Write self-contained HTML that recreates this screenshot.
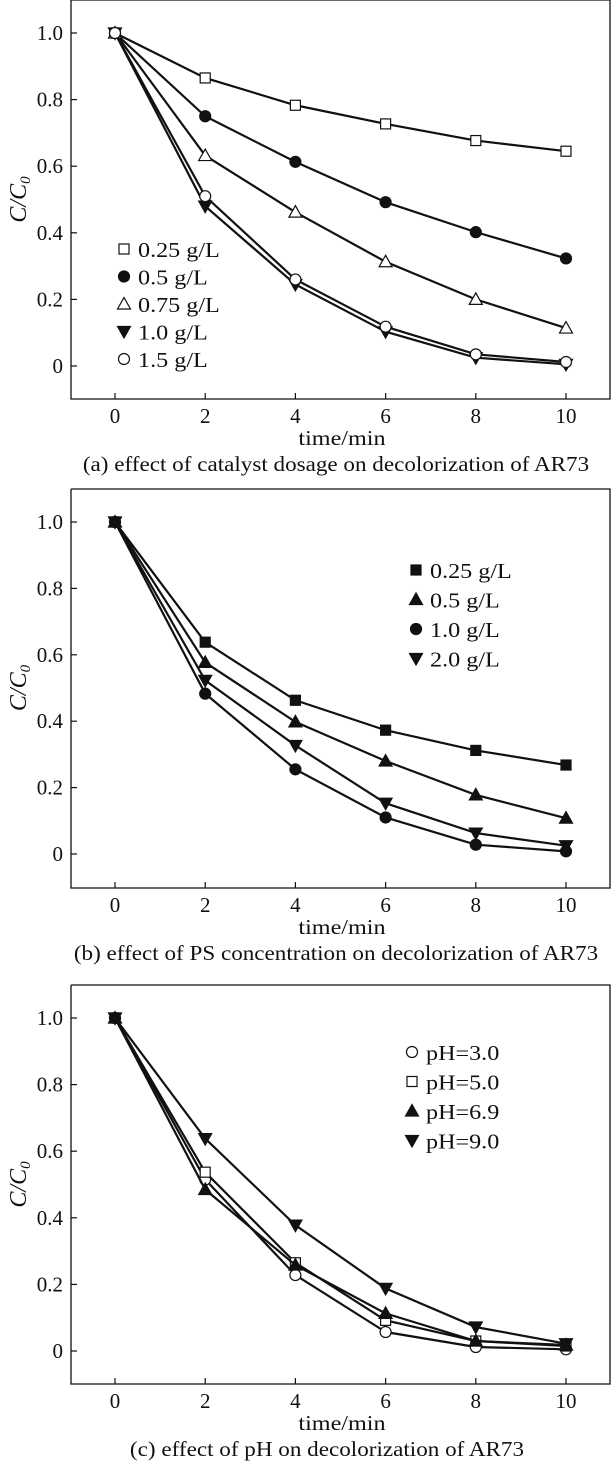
<!DOCTYPE html>
<html><head><meta charset="utf-8">
<style>
html,body{margin:0;padding:0;background:#fff;}
svg{display:block;}
text{font-family:"Liberation Serif",serif;fill:#111;}
</style></head>
<body>
<svg id="fig" width="612" height="1464" viewBox="0 0 612 1464" xmlns="http://www.w3.org/2000/svg"></svg>
<script>
const xTicks=[0,2,4,6,8,10];
const yTicks=[0,0.2,0.4,0.6,0.8,1.0];
const yTickLabels=["0","0.2","0.4","0.6","0.8","1.0"];
const times=[0,2,4,6,8,10];
// panel a
const aNames=["0.25 g/L","0.5 g/L","0.75 g/L","1.0 g/L","1.5 g/L"];
const aS1=[1,0.865,0.783,0.727,0.677,0.645];
const aS2=[1,0.75,0.613,0.492,0.402,0.323];
const aS3=[1,0.632,0.462,0.313,0.2,0.114];
const aS4=[1,0.48,0.245,0.103,0.025,0.005];
const aS5=[1,0.51,0.26,0.118,0.035,0.012];
// panel b
const bNames=["0.25 g/L","0.5 g/L","1.0 g/L","2.0 g/L"];
const bS1=[1,0.638,0.463,0.373,0.312,0.268];
const bS2=[1,0.577,0.398,0.28,0.178,0.108];
const bS3=[1,0.483,0.255,0.11,0.028,0.008];
const bS4=[1,0.523,0.327,0.153,0.063,0.025];
// panel c
const cNames=["pH=3.0","pH=5.0","pH=6.9","pH=9.0"];
const cS1=[1,0.515,0.228,0.057,0.012,0.005];
const cS2=[1,0.537,0.265,0.092,0.03,0.015];
const cS3=[1,0.485,0.258,0.113,0.03,0.018];
const cS4=[1,0.638,0.378,0.188,0.072,0.022];

const NS="http://www.w3.org/2000/svg";
const svg=document.getElementById('fig');
function el(tag,attrs,parent){const e=document.createElementNS(NS,tag);for(const k in attrs)e.setAttribute(k,attrs[k]);(parent||svg).appendChild(e);return e;}
function stretch(t,k){const w=t.getComputedTextLength();t.setAttribute('textLength',(w*k).toFixed(1));t.setAttribute('lengthAdjust','spacingAndGlyphs');}

function marker(g,type,x,y){
  let m;const s=5;
  if(type==='sqo'||type==='sqf') m=el('rect',{x:x-s,y:y-s,width:2*s,height:2*s,fill:type==='sqf'?'#111':'#fff',stroke:'#111','stroke-width':1.2},g);
  else if(type==='cio'||type==='cif') m=el('circle',{cx:x,cy:y,r:5.5,fill:type==='cif'?'#111':'#fff',stroke:'#111','stroke-width':1.2},g);
  else if(type==='tuo'||type==='tuf') m=el('polygon',{points:`${x},${y-6.5} ${x-6.5},${y+5} ${x+6.5},${y+5}`,fill:type==='tuf'?'#111':'#fff',stroke:'#111','stroke-width':1.2},g);
  else m=el('polygon',{points:`${x},${y+6.5} ${x-6.5},${y-5} ${x+6.5},${y-5}`,fill:'#111',stroke:'#111','stroke-width':1.2},g);
  
  
}

function panel(cfg){
  const g=el('g',{});
  
  
  const X0=115,X10=566,L=71,R=610;
  const sx=v=>X0+(X10-X0)*v/10;
  const sy=v=>cfg.y0-(cfg.y0-cfg.y1)*v;
  const fr=el('path',{d:`M${L},${cfg.top} V${cfg.bottom} H${R} V${cfg.top} H${L}`,fill:'none',stroke:'#111','stroke-width':1.3},g);
  
  
  xTicks.forEach(t=>{
    el('line',{x1:sx(t),x2:sx(t),y1:cfg.bottom,y2:cfg.bottom-6,stroke:'#111','stroke-width':1.2},g);
    const tx=el('text',{x:sx(t),y:cfg.bottom+24,'text-anchor':'middle','font-size':21},g);
    tx.textContent=t;
    
    
  });
  yTicks.forEach((t,i)=>{
    el('line',{x1:L,x2:L+6,y1:sy(t),y2:sy(t),stroke:'#111','stroke-width':1.2},g);
    const tx=el('text',{x:63,y:sy(t)+7,'text-anchor':'end','font-size':21},g);
    tx.textContent=yTickLabels[i];
    
    
  });
  const mid=(cfg.y0+cfg.y1)/2;
  const yl=el('text',{x:0,y:0,transform:`translate(26,${mid}) rotate(-90)`,'text-anchor':'middle','font-size':24,'font-style':'italic'},g);
  yl.innerHTML='C/C<tspan font-size="15" dy="4">0</tspan>';
  
  
  const xl=el('text',{x:342,y:cfg.bottom+46,'text-anchor':'middle','font-size':21},g);
  xl.textContent='time/min';
  
  
  stretch(xl,1.15);
  const cap=el('text',{x:cfg.capX,y:cfg.bottom+72,'text-anchor':'middle','font-size':21},g);
  cap.textContent=cfg.caption;
  
  
  stretch(cap,1.1);
  cfg.series.forEach((s,i)=>{
    const pl=el('polyline',{points:times.map((t,j)=>sx(t)+','+sy(s[j])).join(' '),fill:'none',stroke:'#111','stroke-width':2.2},g);
    
    
    times.forEach((t,j)=>marker(g,cfg.markers[i],sx(t),sy(s[j])));
  });
  cfg.names.forEach((n,i)=>{
    const ly=cfg.legY+i*cfg.legDy;
    marker(g,cfg.markers[i],cfg.legX,ly);
    const tx=el('text',{x:cfg.legX+14,y:ly+8,'font-size':21},g);
    tx.textContent=n;
    
    
    stretch(tx,1.15);
  });
}

panel({name:'panel-a-catalyst-dosage',top:0,bottom:399,y0:366,y1:33,capX:336,caption:'(a) effect of catalyst dosage on decolorization of AR73',
  series:[aS1,aS2,aS3,aS4,aS5],names:aNames,markers:['sqo','cif','tuo','td','cio'],legX:124,legY:249,legDy:27.5});
panel({name:'panel-b-ps-concentration',top:489,bottom:888,y0:854,y1:522,capX:336,caption:'(b) effect of PS concentration on decolorization of AR73',
  series:[bS1,bS2,bS3,bS4],names:bNames,markers:['sqf','tuf','cif','td'],legX:416,legY:570,legDy:29.5});
panel({name:'panel-c-ph',top:985,bottom:1384,y0:1351,y1:1018,capX:327,caption:'(c) effect of pH on decolorization of AR73',
  series:[cS1,cS2,cS3,cS4],names:cNames,markers:['cio','sqo','tuf','td'],legX:412,legY:1052,legDy:29.5});
</script>
</body></html>
